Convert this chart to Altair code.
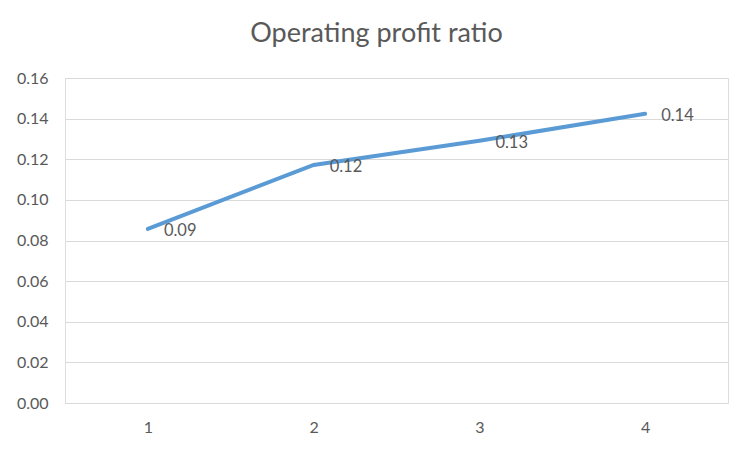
import altair as alt
import pandas as pd

categories = ["1", "2", "3", "4"]
values = [0.0857, 0.1172, 0.1291, 0.1424]
labels = ["0.09", "0.12", "0.13", "0.14"]
y_ticks = [0.0, 0.02, 0.04, 0.06, 0.08, 0.10, 0.12, 0.14, 0.16]

df = pd.DataFrame({"cat": categories, "val": values, "lab": labels})

FONT = "Lato"
TXT = "#595959"

x_enc = alt.X("cat:O", sort=categories,
              scale=alt.Scale(type="point", padding=0.5),
              axis=alt.Axis(title=None, labelAngle=0, domain=False, ticks=False,
                            grid=False, labelPadding=16, labelFontSize=16,
                            labelColor=TXT, labelFont=FONT))
y_enc = alt.Y("val:Q", scale=alt.Scale(domain=[0, 0.16], nice=False),
              axis=alt.Axis(title=None, values=y_ticks, format=".2f", domain=False,
                            ticks=False, grid=True, gridColor="#d9d9d9", gridWidth=1,
                            labelPadding=17, labelFontSize=16, labelColor=TXT,
                            labelFont=FONT))

line = alt.Chart(df).mark_line(color="#5B9BD5", strokeWidth=4, strokeCap="round").encode(
    x=x_enc, y=y_enc)

text = alt.Chart(df).mark_text(align="left", baseline="middle", dx=16, dy=2,
                               fontSize=16.5, color=TXT, font=FONT).encode(
    x=alt.X("cat:O", sort=categories), y="val:Q", text="lab:N")

chart = alt.layer(line, text).properties(
    width=663, height=325,
    title=alt.TitleParams("Operating profit ratio", fontSize=27, font=FONT,
                          color=TXT, fontWeight="normal", anchor="middle",
                          frame="group", dx=-20, offset=22),
    autosize=alt.AutoSizeParams(type="none"),
    padding={"left": 57, "top": 70, "right": 16, "bottom": 41},
).configure_view(stroke=None).configure(background="white")

chart.save("out.html", embed_options={"renderer": "svg", "actions": False})
